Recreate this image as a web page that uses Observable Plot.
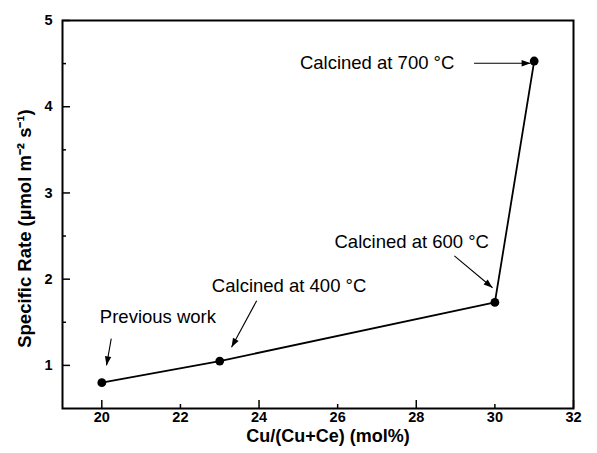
<!DOCTYPE html>
<html><head><meta charset="utf-8">
<script src="https://cdn.jsdelivr.net/npm/d3@7"></script>
<script src="https://cdn.jsdelivr.net/npm/@observablehq/plot@0.6"></script>
<style>
body{margin:0;background:#fff}
svg{font-family:"Liberation Sans",Arial,Helvetica,sans-serif}
</style>
</head><body><div id="chart"></div>
<script>
// Data
const copperFraction = [20, 23, 30, 31];
const specificRate = [0.8, 1.05, 1.73, 4.53];
const xTickLabels = [20, 22, 24, 26, 28, 30, 32];
const xMajorTicks = [20, 24, 28, 32];
const xMinorTicks = [22, 26, 30];
const yTickLabels = [1, 2, 3, 4, 5];
const yMinorTicks = [1.5, 2.5, 3.5, 4.5];
const noteText = ["Previous work", "Calcined at 400 °C", "Calcined at 600 °C", "Calcined at 700 °C"];
const noteX = [19.95, 22.8, 25.92, 25.04];
const noteY = [1.56, 1.92, 2.43, 4.51];
const arrowX1 = [20.24, 23.94, 28.97, 29.47];
const arrowY1 = [1.31, 1.75, 2.27, 4.505];
const arrowX2 = [20.12, 23.30, 29.94, 30.91];
const arrowY2 = [1.0, 1.21, 1.90, 4.505];
const xTitle = "Cu/(Cu+Ce) (mol%)";
const yTitle = "Specific Rate (µmol m⁻² s⁻¹)";

const points = copperFraction.map((x, i) => ({x, y: specificRate[i]}));
const notes = noteText.map((t, i) => ({t, x: noteX[i], y: noteY[i]}));

const W = 597, H = 453, mL = 62, mR = 24, mT = 20, mB = 45;
const innerW = W - mL - mR, innerH = H - mT - mB;
const xDomain = [19, 32], yDomain = [0.5, 5];
const sx = Plot.scale({x: {domain: xDomain, range: [mL, W - mR]}});
const sy = Plot.scale({y: {domain: yDomain, range: [H - mB, mT]}});
const arrows = arrowX1.map((x1, i) => {
  const dx = sx.apply(arrowX2[i]) - sx.apply(x1);
  const dy = sy.apply(arrowY2[i]) - sy.apply(arrowY1[i]);
  return {x1, y1: arrowY1[i], x2: arrowX2[i], y2: arrowY2[i], angle: Math.atan2(dx, -dy) * 180 / Math.PI};
});
// filled arrowhead with its tip at the origin, pointing up
const arrowHead = {draw(ctx) { ctx.moveTo(0, 0); ctx.lineTo(-3.2, 9); ctx.lineTo(3.2, 9); ctx.closePath(); }};

const chart = Plot.plot({
  width: W, height: H,
  marginLeft: mL, marginRight: mR, marginTop: mT, marginBottom: mB,
  x: {domain: xDomain, axis: null},
  y: {domain: yDomain, axis: null},
  marks: [
    Plot.ruleX(xMajorTicks, {x: d => d, insetTop: innerH - 8, stroke: "black", strokeWidth: 1.5}),
    Plot.ruleX(xMinorTicks, {x: d => d, insetTop: innerH - 4, stroke: "black", strokeWidth: 1.5}),
    Plot.ruleY(yTickLabels, {y: d => d, insetRight: innerW - 8, stroke: "black", strokeWidth: 1.5}),
    Plot.ruleY(yMinorTicks, {y: d => d, insetRight: innerW - 4, stroke: "black", strokeWidth: 1.5}),
    Plot.text(xTickLabels, {x: d => d, text: d => String(d), frameAnchor: "bottom", dy: 13, textAnchor: "middle", fontSize: 14.5, fontWeight: "bold", fill: "black"}),
    Plot.text(yTickLabels, {y: d => d, text: d => String(d), frameAnchor: "left", dx: -10, textAnchor: "end", fontSize: 14.5, fontWeight: "bold", fill: "black"}),
    Plot.frame({stroke: "black", strokeWidth: 2}),
    Plot.line(points, {x: "x", y: "y", stroke: "black", strokeWidth: 1.8}),
    Plot.dot(points, {x: "x", y: "y", r: 4.4, fill: "black", stroke: "none"}),
    Plot.link(arrows, {x1: "x1", y1: "y1", x2: "x2", y2: "y2", stroke: "black", strokeWidth: 1.1}),
    Plot.dot(arrows, {x: "x2", y: "y2", symbol: arrowHead, rotate: "angle", fill: "black", stroke: "none", r: 5}),
    Plot.text(notes, {x: "x", y: "y", text: "t", textAnchor: "start", fontSize: 18.5, fill: "black"}),
    Plot.text([xTitle], {frameAnchor: "bottom", dy: 33, dx: 10, text: d => d, fontSize: 18, fontWeight: "bold", fill: "black"}),
    Plot.text([yTitle], {frameAnchor: "left", textAnchor: "middle", dx: -37, dy: 14, rotate: -90, text: d => d, fontSize: 18.5, fontWeight: "bold", fill: "black"})
  ]
});
document.getElementById("chart").appendChild(chart);
</script>
</body></html>
